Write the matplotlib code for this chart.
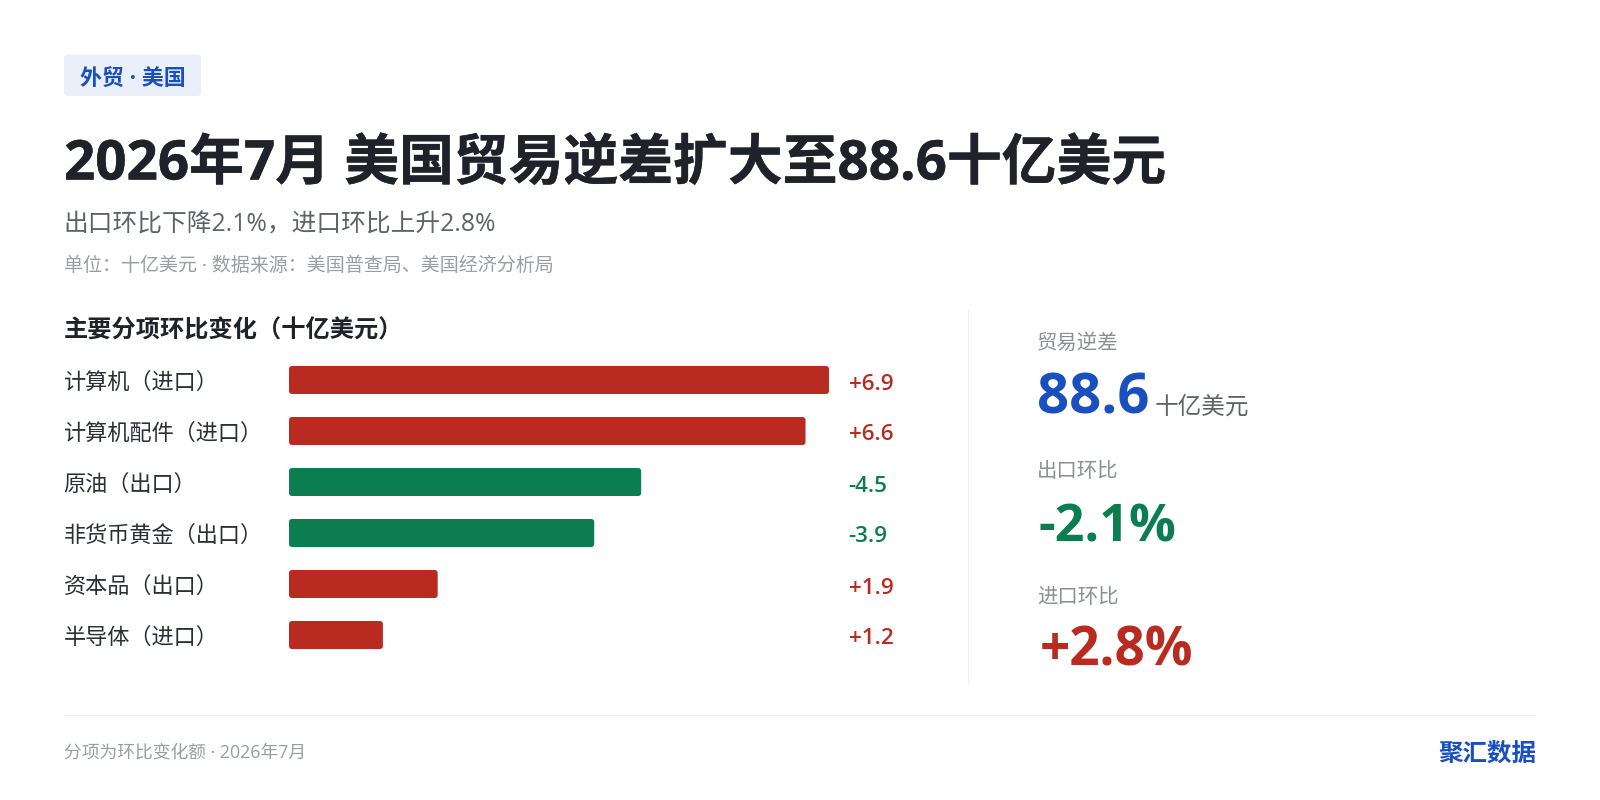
import matplotlib
matplotlib.use("Agg")
import matplotlib.pyplot as plt
from matplotlib.patches import FancyBboxPatch, Rectangle
from matplotlib.transforms import Affine2D
import matplotlib.patheffects as pe

categories = ["计算机（进口）", "计算机配件（进口）", "原油（出口）", "非货币黄金（出口）", "资本品（出口）", "半导体（进口）"]
magnitudes = [6.9, 6.6, 4.5, 3.9, 1.9, 1.2]
value_labels = ["+6.9", "+6.6", "-4.5", "-3.9", "+1.9", "+1.2"]
directions = ["up", "up", "down", "down", "up", "up"]

RED, GREEN, BLUE = "#B92B20", "#0B7D50", "#1A4FBF"
INK, GREY, LIGHT, SLATE = "#1F2329", "#5F6368", "#9A9DA3", "#8A8F98"
FONT = ["Open Sans", "Noto Sans CJK SC", "DejaVu Sans"]
plt.rcParams["font.family"] = FONT

W, H = 1600, 800
fig = plt.figure(figsize=(W / 100, H / 100), dpi=100, facecolor="white")
px = Affine2D().scale(1, -1).translate(0, H)


def T(x, y, s, size, color, weight="normal", ha="left"):
    return fig.text(x, y, s, transform=px, fontsize=size * 0.72, color=color, weight=weight,
                    ha=ha, va="baseline", family=FONT)


# Header tag
fig.add_artist(FancyBboxPatch((64, 54.5), 137, 41.5, boxstyle="round,pad=0,rounding_size=4",
                              transform=px, fc="#EAEFFA", ec="none"))
T(80, 84.5, "外贸 · 美国", 22, BLUE, "bold")
title = T(64, 179.5, "2026年7月 美国贸易逆差扩大至88.6十亿美元", 54.8, INK, "bold")
title.set_path_effects([pe.withStroke(linewidth=0.3, foreground=INK)])
T(63.5, 232, "出口环比下降2.1%，进口环比上升2.8%", 24.7, GREY)
T(64, 271, "单位：十亿美元 · 数据来源：美国普查局、美国经济分析局", 19, LIGHT)
T(64, 337.5, "主要分项环比变化（十亿美元）", 24.2, INK, "bold")

# Bars
rows = list(range(len(categories)))
ax = fig.add_axes([289 / W, 1 - 660.5 / H, 540 / W, 306 / H])
ax.set_xlim(0, max(magnitudes))
ax.set_ylim(len(categories) - 0.5, -0.5)
ax.axis("off")
bar_h = 28 / 51
x_per_px = max(magnitudes) / 540
for i, v, d in zip(rows, magnitudes, directions):
    ax.add_patch(FancyBboxPatch((0, i - bar_h / 2), v, bar_h,
                                boxstyle=f"round,pad=0,rounding_size={3 * x_per_px}",
                                mutation_aspect=(1 / 51) / x_per_px,
                                fc=RED if d == "up" else GREEN, ec="none", clip_on=False))
for i, (c, lab, d) in enumerate(zip(categories, value_labels, directions)):
    y = 380 + 51 * i
    T(63.5, y + 10, c, 22.2, "#2B2F36")
    T(848.5, y + 9.5, lab, 22.5, RED if d == "up" else GREEN, 600)

# Divider and footer rules
fig.add_artist(Rectangle((968, 310), 1, 375, transform=px, fc="#EEEEEE", ec="none"))
fig.add_artist(Rectangle((64, 715), 1472, 1, transform=px, fc="#EEEEEE", ec="none"))

# KPI panel
T(1037, 349, "贸易逆差", 20.4, SLATE)
T(1037, 414, "88.6", 56, BLUE, "bold")
T(1154.5, 414, "十亿美元", 23.6, GREY)
T(1037, 477, "出口环比", 20.4, SLATE)
T(1039, 541.5, "-2.1%", 52, GREEN, "bold")
T(1037, 603, "进口环比", 20.4, SLATE)
T(1040, 666, "+2.8%", 53, RED, "bold")

# Footer
T(64, 758, "分项为环比变化额 · 2026年7月", 17.8, LIGHT)
T(1536, 761, "聚汇数据", 24.5, BLUE, "bold", ha="right")

fig.savefig("out.png", dpi=100, facecolor="white")
